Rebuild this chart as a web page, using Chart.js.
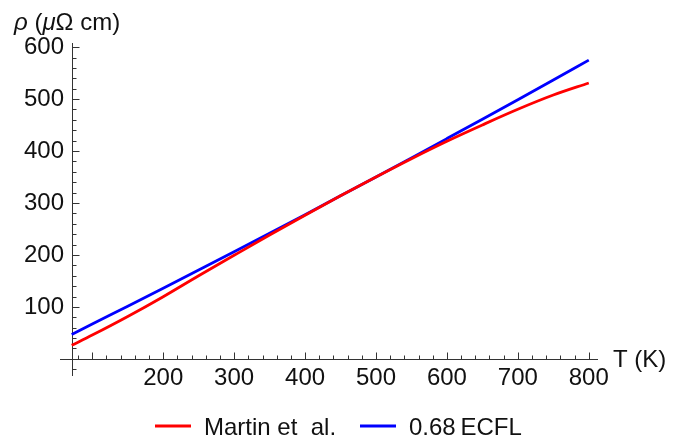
<!DOCTYPE html>
<html>
<head>
<meta charset="utf-8">
<script src="https://cdn.jsdelivr.net/npm/chart.js@4"></script>
<style>
  html, body { margin: 0; background: #fff; }
  #wrap { width: 693px; height: 440px; }
</style>
</head>
<body>
<div id="wrap"><canvas id="chart"></canvas></div>
<script>
// temperature grid (K) and the two resistivity curves (µΩ cm)
const temps  = [71, 100, 150, 200, 250, 300, 350, 400, 450, 500, 550, 600, 650, 700, 750, 800];
const martin = [26, 45.7, 81.5, 119.6, 160, 199.3, 238.3, 276.6, 313.8, 350.2, 385.4, 419, 450.3, 480.4, 507.8, 531];
const ecfl   = [47, 67.2, 101.5, 136.1, 171, 206.3, 241.8, 277.6, 313.8, 350.2, 386.9, 424, 461.3, 498.9, 536.8, 575];
const seriesNames = ['Martin et  al.', '0.68\u2009ECFL'];
const xTickLabels = [200, 300, 400, 500, 600, 700, 800];
const yTickLabels = [100, 200, 300, 400, 500, 600];

const FONT = '"Liberation Sans", Arial, sans-serif';
const axisColor = '#333';
const textColor = '#111';

const mmaAxes = {
  id: 'mmaAxes',
  beforeDatasetsDraw(chart) {
    const { ctx, chartArea: a, scales: { x, y } } = chart;
    const x0 = Math.round(x.getPixelForValue(temps[0])) + 0.5;
    const y0 = Math.round(y.getPixelForValue(0)) + 0.5;
    ctx.save();
    ctx.strokeStyle = axisColor;
    ctx.lineWidth = 1;
    ctx.beginPath();
    ctx.moveTo(a.left, y0); ctx.lineTo(a.right, y0);
    ctx.moveTo(x0, a.top); ctx.lineTo(x0, a.bottom);
    // x ticks point up, y ticks point right
    for (let t = 80; t <= 800; t += 20) {
      const px = Math.round(x.getPixelForValue(t)) + 0.5;
      const len = t % 100 === 0 ? 7 : 4;
      ctx.moveTo(px, y0); ctx.lineTo(px, y0 - len);
    }
    for (let v = -20; v <= 600; v += 20) {
      if (v === 0) continue;
      const py = Math.round(y.getPixelForValue(v)) + 0.5;
      const len = v % 100 === 0 ? 7 : 4;
      ctx.moveTo(x0, py); ctx.lineTo(x0 + len, py);
    }
    ctx.stroke();

    ctx.fillStyle = textColor;
    ctx.font = '24px ' + FONT;
    ctx.textAlign = 'center';
    ctx.textBaseline = 'alphabetic';
    xTickLabels.forEach(t => ctx.fillText(String(t), x.getPixelForValue(t), 385));
    ctx.textAlign = 'right';
    ctx.textBaseline = 'middle';
    yTickLabels.forEach(v => ctx.fillText(String(v), 64, y.getPixelForValue(v)));

    // axis labels
    ctx.textAlign = 'left';
    ctx.textBaseline = 'alphabetic';
    ctx.fillText('T (K)', 613, 367);
    const parts = [['ρ', true], [' (', false], ['μ', true], ['Ω cm)', false]];
    let px = 14;
    parts.forEach(([s, it]) => {
      ctx.font = (it ? 'italic ' : '') + '24px ' + FONT;
      ctx.fillText(s, px, 30);
      px += ctx.measureText(s).width;
    });
    ctx.restore();
  },
  afterDraw(chart) {
    const { ctx } = chart;
    ctx.save();
    ctx.font = '24px ' + FONT;
    ctx.fillStyle = textColor;
    ctx.textBaseline = 'alphabetic';
    const starts = [155, 360];
    chart.data.datasets.forEach((ds, i) => {
      const lx = starts[i];
      ctx.strokeStyle = ds.borderColor;
      ctx.lineWidth = ds.borderWidth;
      ctx.beginPath();
      ctx.moveTo(lx, 426); ctx.lineTo(lx + 36, 426);
      ctx.stroke();
      ctx.fillText(ds.label, lx + 49, 435);
    });
    ctx.restore();
  }
};

new Chart(document.getElementById('chart'), {
  type: 'line',
  data: {
    datasets: [
      { label: seriesNames[0], data: temps.map((t, i) => ({ x: t, y: martin[i] })), borderColor: '#ff0000', borderWidth: 2.8 },
      { label: seriesNames[1], data: temps.map((t, i) => ({ x: t, y: ecfl[i] })), borderColor: '#0000ff', borderWidth: 2.8 }
    ]
  },
  options: {
    responsive: true,
    maintainAspectRatio: false,
    animation: false,
    layout: { padding: { left: 60, right: 95, top: 43, bottom: 64 } },
    elements: { point: { radius: 0 }, line: { cubicInterpolationMode: 'monotone', fill: false } },
    scales: {
      x: { type: 'linear', min: 54.5, max: 813, display: false },
      y: { min: -33, max: 608, display: false }
    },
    plugins: { legend: { display: false }, tooltip: { enabled: false } }
  },
  plugins: [mmaAxes]
});
</script>
</body>
</html>
